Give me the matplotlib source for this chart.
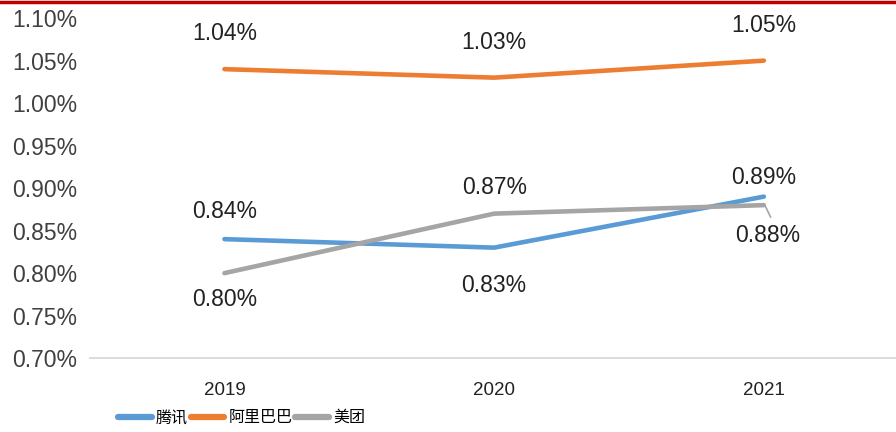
import matplotlib.pyplot as plt
from matplotlib.lines import Line2D
from matplotlib.ticker import FuncFormatter

plt.rcParams['font.family'] = ['Liberation Sans', 'Noto Sans CJK SC', 'DejaVu Sans']

years = ['2019', '2020', '2021']
tencent = [0.84, 0.83, 0.89]
alibaba = [1.04, 1.03, 1.05]
meituan = [0.80, 0.87, 0.88]
names = ['腾讯', '阿里巴巴', '美团']
colors = ['#5B9BD5', '#ED7D31', '#A5A5A5']

# label offsets (points) for each series / year
offs = {
    0: [(0, 20), (0, -27), (0, 14)],
    1: [(0, 26), (0, 25), (0, 25)],
    2: [(0, -19), (0, 19), (3, -22)],
}

fig = plt.figure(figsize=(8.96, 4.32), dpi=100)
ax = fig.add_axes([0.100, 0.171, 0.903, 0.787])

x = range(len(years))
for i, s in enumerate([tencent, alibaba, meituan]):
    ax.plot(x, s, color=colors[i], lw=3.3, solid_capstyle='round', label=names[i])
for i, s in enumerate([tencent, alibaba, meituan]):
    for j, v in enumerate(s):
        ax.annotate('%.2f%%' % v, (j, v), xytext=offs[i][j], textcoords='offset points',
                    ha='center', va='center', fontsize=16.5, color='#222222')

# leader line for meituan 2021 label
ax.plot([2.005, 2.025], [0.879, 0.866], color='#A5A5A5', lw=1.2)

ax.set_xlim(-0.5, 2.5)
ax.set_ylim(0.70, 1.10)
ax.set_yticks([0.70 + 0.05 * k for k in range(9)])
ax.yaxis.set_major_formatter(FuncFormatter(lambda v, p: '%.2f%%' % v))
ax.set_xticks(list(x))
ax.set_xticklabels(years)
ax.tick_params(axis='y', length=0, pad=9, labelsize=16.5, labelcolor='#404040')
ax.tick_params(axis='x', length=0, pad=17, labelsize=13.5, labelcolor='#222222')
for sp in ['top', 'right', 'left']:
    ax.spines[sp].set_visible(False)
ax.spines['bottom'].set_color('#D9D9D9')
ax.spines['bottom'].set_linewidth(1.3)

leg = ax.legend(loc='lower left', bbox_to_anchor=(110 / 896, -0.005), bbox_transform=fig.transFigure,
                ncol=3, frameon=False, handlelength=2.1, handletextpad=0.25, columnspacing=0.2,
                prop={'family': ['Noto Sans CJK SC'], 'size': 11.5}, borderaxespad=0.1)
for h in leg.get_lines():
    h.set_linewidth(4.5)

# red line at the top
fig.add_artist(Line2D([0, 1], [0.996, 0.996], transform=fig.transFigure, color='#C00000', lw=2.5))

fig.savefig('out.png', dpi=100)
